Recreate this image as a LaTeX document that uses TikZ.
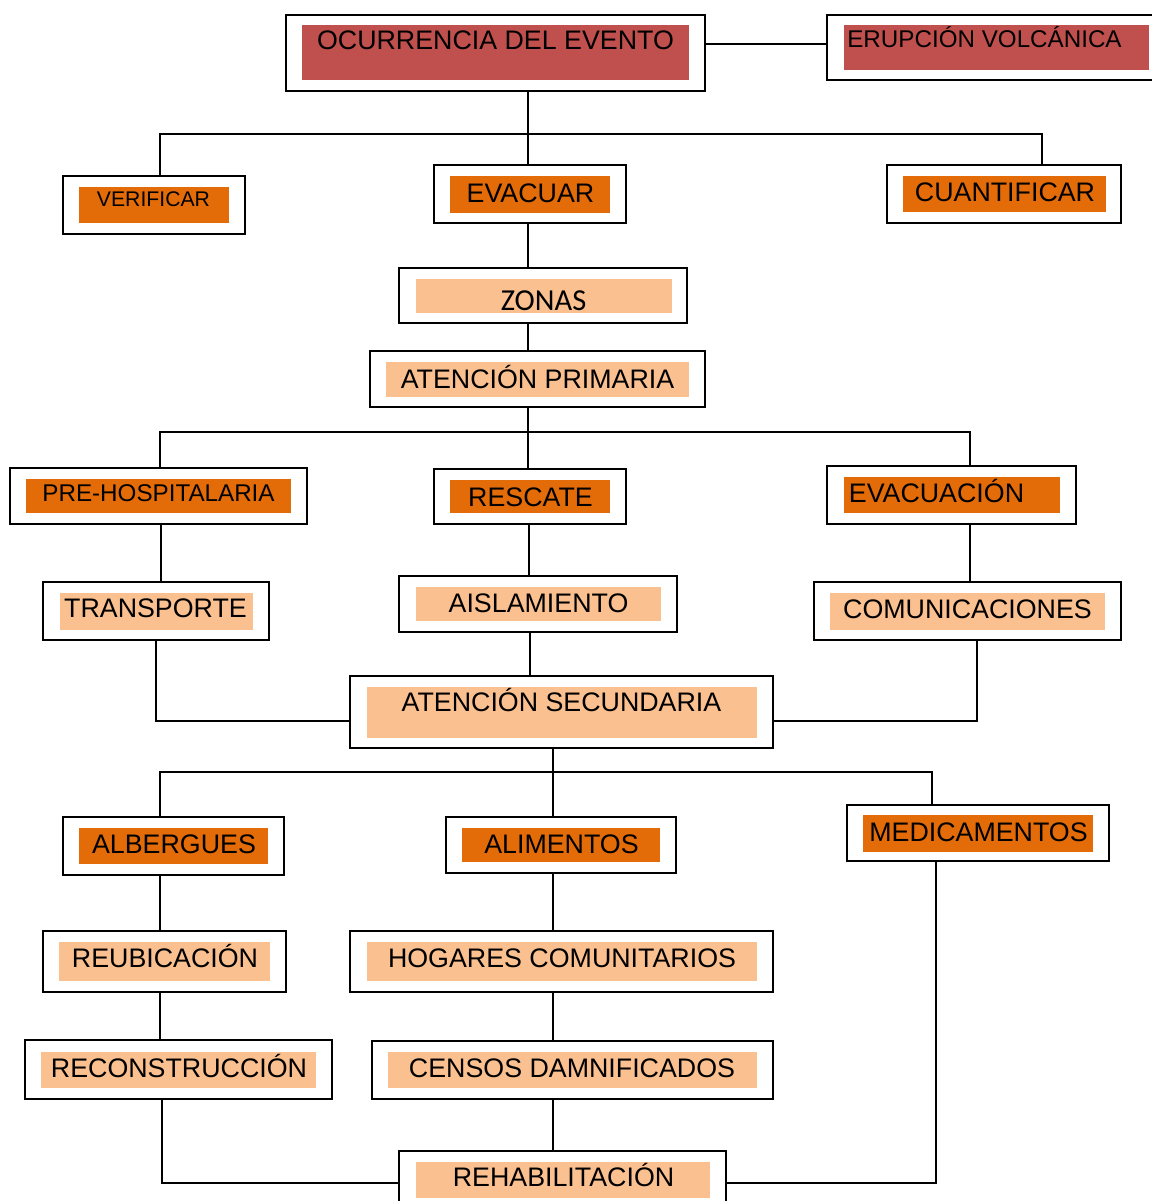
\documentclass[tikz,border=0pt]{standalone}
\usepackage{fontspec}
\setmainfont{Liberation Sans}
\newfontfamily\zonasfont{Carlito}
\usetikzlibrary{fit}
\definecolor{cred}{HTML}{C0504D}
\definecolor{corange}{HTML}{E36C09}
\definecolor{cpeach}{HTML}{FAC090}
\tikzset{
  obox/.style={draw=black, line width=1.8pt, inner sep=0pt, rectangle},
  lbl/.style={anchor=base, inner sep=0pt, font=\fontsize{26.8}{30}\selectfont},
  conn/.style={draw=black, line width=1.6pt},
}
\newcommand\blk[8]{%
  \node[obox, fit={(#2) (#3)}] (#1) {};
  \fill[#6] (#4) rectangle (#5);
  \node[lbl] (#1t) at (#7) {#8};}
\begin{document}
\begin{tikzpicture}[x=1pt, y=-1pt]
\useasboundingbox (0,0) rectangle (1151,1201);
\fill[white] (0,0) rectangle (1151,1201);
\blk{ocu}{286,15}{705,91}{302,25}{689,80}{cred}{495.5,50}{OCURRENCIA DEL EVENTO}
\blk{eru}{827,15}{1170,80}{844,25}{1149,70}{cred}{984.5,48}{\fontsize{24.2}{28}\selectfont ERUPCIÓN VOLCÁNICA}
\blk{ver}{63,176}{245,234}{79,187}{229,223}{corange}{153.5,207}{\fontsize{21.2}{24}\selectfont VERIFICAR}
\blk{eva}{434,165}{626,223}{450,176}{610,213}{corange}{530.5,202}{EVACUAR}
\blk{cua}{887,165}{1121,223}{903,176}{1106,212}{corange}{1005,201.5}{CUANTIFICAR}
\blk{zon}{399,268}{687,323}{416,279}{672,313}{cpeach}{543.5,310}{\zonasfont\fontsize{30.5}{34}\selectfont ZONAS}
\blk{ap}{370,351}{705,407}{386,362}{689,397}{cpeach}{537.5,388}{ATENCIÓN PRIMARIA}
\blk{pre}{10,468}{307,524}{26,479}{291,513}{corange}{158.5,501}{\fontsize{24.2}{28}\selectfont PRE-HOSPITALARIA}
\blk{res}{434,469}{626,524}{450,480}{610,513}{corange}{530.5,506}{RESCATE}
\blk{evn}{827,466}{1076,524}{844,477}{1060,513}{corange}{936.5,502}{EVACUACIÓN}
\blk{tra}{43,582}{269,640}{60,593}{253,630}{cpeach}{155.5,617}{TRANSPORTE}
\blk{ais}{399,576}{677,632}{416,587}{661,621}{cpeach}{538.5,612}{AISLAMIENTO}
\blk{com}{814,582}{1121,640}{830,593}{1105,630}{cpeach}{967.5,618}{COMUNICACIONES}
\blk{as}{350,676}{773,748}{367,687}{757,738}{cpeach}{561.5,711}{ATENCIÓN SECUNDARIA}
\blk{alb}{63,817}{284,875}{79,828}{268,864}{corange}{174,853}{ALBERGUES}
\blk{ali}{446,817}{676,873}{462,828}{660,862}{corange}{561.5,853}{ALIMENTOS}
\blk{med}{847,805}{1109,861}{863,815}{1093,852}{corange}{978.5,841}{MEDICAMENTOS}
\blk{reu}{43,931}{286,992}{59,942}{270,981}{cpeach}{165,967}{REUBICACIÓN}
\blk{hog}{350,931}{773,992}{367,942}{757,981}{cpeach}{562,967}{HOGARES COMUNITARIOS}
\blk{rec}{25,1040}{332,1099}{41,1052}{316,1088}{cpeach}{179,1077}{RECONSTRUCCIÓN}
\blk{cen}{372,1041}{773,1099}{388,1052}{757,1088}{cpeach}{572,1077}{CENSOS DAMNIFICADOS}
\blk{reh}{399,1151}{726,1220}{416,1162}{710,1198}{cpeach}{563.5,1186}{REHABILITACIÓN}
% bus coordinates
\coordinate (bus1) at (528,134);
\coordinate (bus2) at (528,432);
\coordinate (bus3) at (553,772);
% connectors
\draw[conn] (ocu.east |- 0,44) -- (eru.west |- 0,44);
\draw[conn] (ocu.south -| bus1) -- (eva.north -| bus1);
\draw[conn] (ver.north -| 160,0) |- (bus1) -| (cua.north -| 1042,0);
\draw[conn] (eva.south -| bus1) -- (zon.north -| bus1);
\draw[conn] (zon.south -| bus1) -- (ap.north -| bus1);
\draw[conn] (ap.south -| bus2) -- (res.north -| bus2);
\draw[conn] (pre.north -| 160,0) |- (bus2) -| (evn.north -| 970,0);
\draw[conn] (pre.south -| 161,0) -- (tra.north -| 161,0);
\draw[conn] (res.south -| 529,0) -- (ais.north -| 529,0);
\draw[conn] (evn.south -| 970,0) -- (com.north -| 970,0);
\draw[conn] (ais.south -| 530,0) -- (as.north -| 530,0);
\draw[conn] (tra.south -| 156,0) |- (as.west |- 0,721);
\draw[conn] (com.south -| 977,0) |- (as.east |- 0,721);
\draw[conn] (as.south -| bus3) -- (ali.north -| bus3);
\draw[conn] (alb.north -| 160,0) |- (bus3) -| (med.north -| 932,0);
\draw[conn] (alb.south -| 160,0) -- (reu.north -| 160,0);
\draw[conn] (ali.south -| bus3) -- (hog.north -| bus3);
\draw[conn] (reu.south -| 160,0) -- (rec.north -| 160,0);
\draw[conn] (hog.south -| bus3) -- (cen.north -| bus3);
\draw[conn] (cen.south -| bus3) -- (reh.north -| bus3);
\draw[conn] (rec.south -| 162,0) |- (reh.west |- 0,1183);
\draw[conn] (med.south -| 936,0) |- (reh.east |- 0,1183);
\end{tikzpicture}
\end{document}
